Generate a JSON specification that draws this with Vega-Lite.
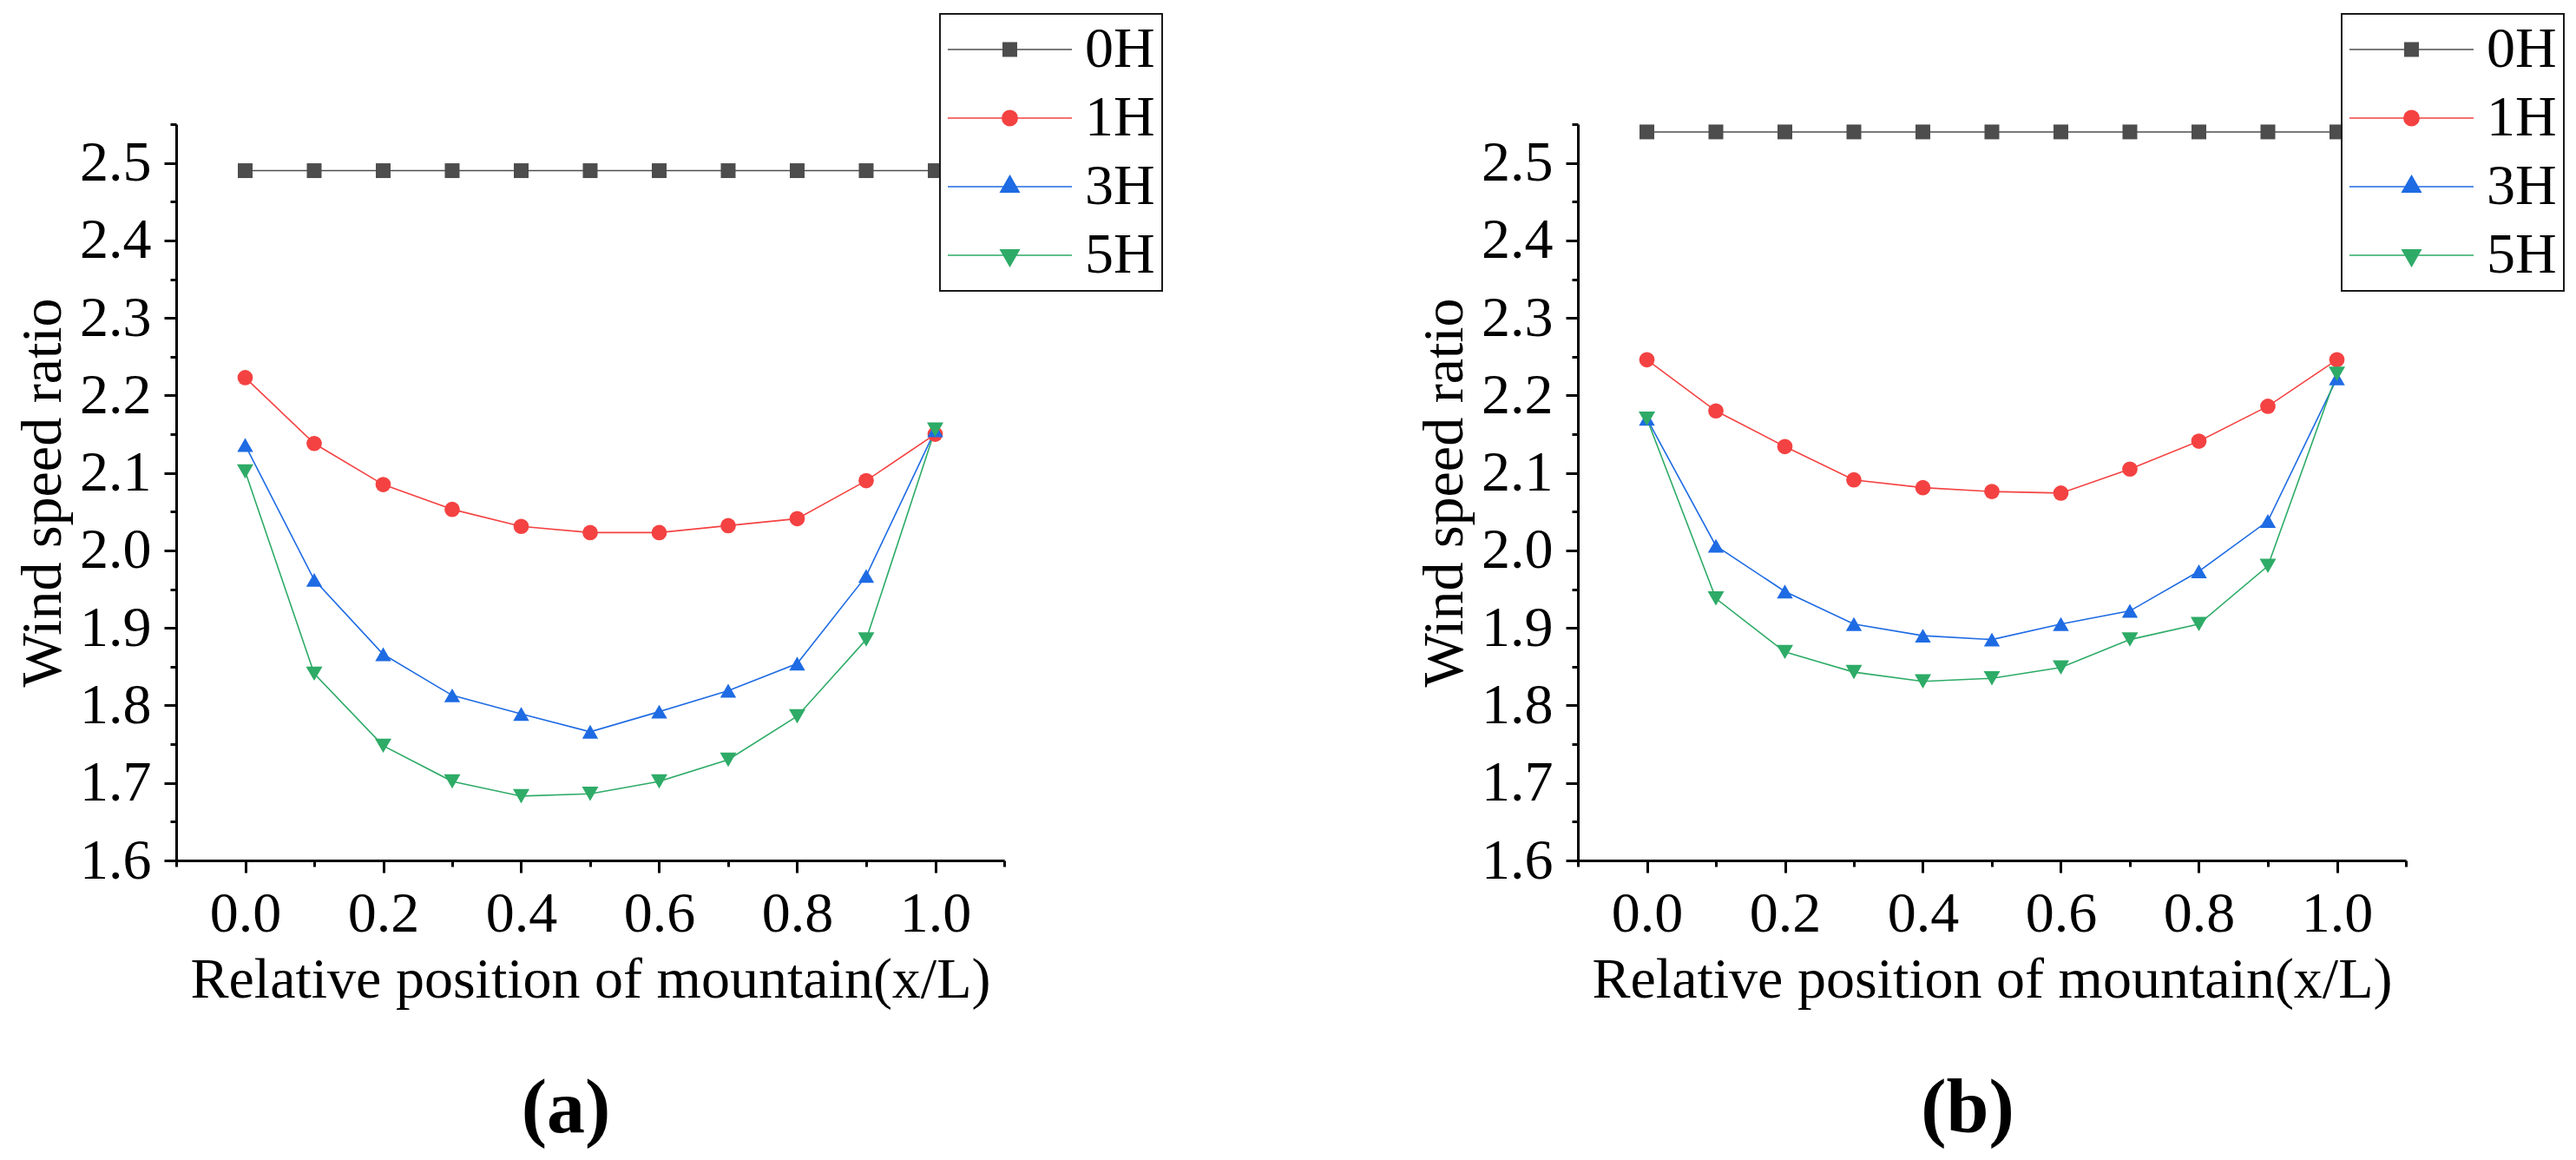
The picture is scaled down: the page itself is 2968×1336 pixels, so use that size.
{
  "$schema": "https://vega.github.io/schema/vega-lite/v6.json",
  "background": "white",
  "padding": {"left": 16, "top": 15, "right": 5, "bottom": 5},
  "spacing": 661,
  "bounds": "flush",
  "config": {
    "view": {"stroke": null},
    "font": "Liberation Serif",
    "axis": {
      "grid": false,
      "domainColor": "black",
      "tickColor": "black",
      "labelColor": "black",
      "titleColor": "black",
      "labelFont": "Liberation Serif",
      "titleFont": "Liberation Serif",
      "labelFontSize": 66,
      "titleFontSize": 66,
      "titleFontWeight": "normal",
      "domainWidth": 3,
      "tickWidth": 3
    },
    "legend": {
      "title": null, "orient": "none", "legendX": 880, "legendY": -127, "direction": "vertical",
      "padding": 8, "rowPadding": 13, "labelOffset": 14, "clipHeight": 66,
      "labelFont": "Liberation Serif", "labelFontSize": 66, "labelColor": "black",
      "symbolSize": 20449, "symbolStrokeWidth": 1.5,
      "strokeColor": "#1a1a1a", "fillColor": "white", "strokeWidth": 2
    }
  },
  "resolve": {
    "scale": {"color": "independent", "fill": "independent", "shape": "independent", "size": "independent"},
    "legend": {"color": "independent", "fill": "independent", "shape": "independent", "size": "independent"}
  },
  "hconcat": [
    {
      "width": 954,
      "height": 848,
      "title": {"text": "(a)", "orient": "bottom", "anchor": "middle", "frame": "group", "font": "Liberation Serif", "fontSize": 88, "fontWeight": "bold", "color": "black", "offset": 73, "dx": -28},
      "data": {"values": [
        {"s":"0H","x":0,"y":2.49},{"s":"0H","x":0.1,"y":2.49},{"s":"0H","x":0.2,"y":2.49},{"s":"0H","x":0.3,"y":2.49},{"s":"0H","x":0.4,"y":2.49},{"s":"0H","x":0.5,"y":2.49},{"s":"0H","x":0.6,"y":2.49},{"s":"0H","x":0.7,"y":2.49},{"s":"0H","x":0.8,"y":2.49},{"s":"0H","x":0.9,"y":2.49},{"s":"0H","x":1.0,"y":2.49},
        {"s":"1H","x":0,"y":2.223},{"s":"1H","x":0.1,"y":2.138},{"s":"1H","x":0.2,"y":2.085},{"s":"1H","x":0.3,"y":2.053},{"s":"1H","x":0.4,"y":2.031},{"s":"1H","x":0.5,"y":2.023},{"s":"1H","x":0.6,"y":2.023},{"s":"1H","x":0.7,"y":2.032},{"s":"1H","x":0.8,"y":2.041},{"s":"1H","x":0.9,"y":2.09},{"s":"1H","x":1.0,"y":2.15},
        {"s":"3H","x":0,"y":2.136},{"s":"3H","x":0.1,"y":1.962},{"s":"3H","x":0.2,"y":1.866},{"s":"3H","x":0.3,"y":1.813},{"s":"3H","x":0.4,"y":1.789},{"s":"3H","x":0.5,"y":1.766},{"s":"3H","x":0.6,"y":1.792},{"s":"3H","x":0.7,"y":1.819},{"s":"3H","x":0.8,"y":1.854},{"s":"3H","x":0.9,"y":1.967},{"s":"3H","x":1.0,"y":2.155},
        {"s":"5H","x":0,"y":2.102},{"s":"5H","x":0.1,"y":1.841},{"s":"5H","x":0.2,"y":1.748},{"s":"5H","x":0.3,"y":1.702},{"s":"5H","x":0.4,"y":1.683},{"s":"5H","x":0.5,"y":1.686},{"s":"5H","x":0.6,"y":1.702},{"s":"5H","x":0.7,"y":1.73},{"s":"5H","x":0.8,"y":1.786},{"s":"5H","x":0.9,"y":1.885},{"s":"5H","x":1.0,"y":2.156}
      ]},
      "resolve": {
        "axis": {"x": "independent", "y": "independent"},
        "scale": {"color": "independent", "fill": "independent", "shape": "independent", "size": "independent"},
        "legend": {"color": "independent", "fill": "independent", "shape": "independent", "size": "independent"}
      },
      "layer": [
        {
          "mark": {"type": "line", "strokeWidth": 1.6},
          "encoding": {
            "x": {"field": "x", "type": "quantitative", "scale": {"domain": [-0.1, 1.1], "nice": false, "zero": false},
              "axis": {"orient": "bottom", "values": [0, 0.2, 0.4, 0.6, 0.8, 1.0], "format": ".1f", "tickSize": 14, "labelPadding": 15, "titlePadding": 11, "title": "Relative position of mountain(x/L)"}},
            "y": {"field": "y", "type": "quantitative", "scale": {"domain": [1.6, 2.55], "nice": false, "zero": false},
              "axis": {"orient": "left", "values": [1.6, 1.7, 1.8, 1.9, 2.0, 2.1, 2.2, 2.3, 2.4, 2.5], "format": ".1f", "tickSize": 14, "labelPadding": 15, "titlePadding": 8, "title": "Wind speed ratio"}},
            "color": {"field": "s", "type": "nominal", "scale": {"domain": ["0H", "1H", "3H", "5H"], "range": ["#4D4D4D", "#F44242", "#1E6BE3", "#2EAB67"]}, "legend": null}
          }
        },
        {
          "mark": {"type": "point", "filled": true, "opacity": 1},
          "encoding": {
            "x": {"field": "x", "type": "quantitative", "scale": {"domain": [-0.1, 1.1], "nice": false, "zero": false},
              "axis": {"orient": "bottom", "values": [-0.1, 0.1, 0.3, 0.5, 0.7, 0.9, 1.1], "labels": false, "domain": false, "tickSize": 7, "title": null}},
            "y": {"field": "y", "type": "quantitative", "scale": {"domain": [1.6, 2.55], "nice": false, "zero": false},
              "axis": {"orient": "left", "values": [1.65, 1.75, 1.85, 1.95, 2.05, 2.15, 2.25, 2.35, 2.45, 2.55], "labels": false, "domain": false, "tickSize": 7, "title": null}},
            "color": {"field": "s", "type": "nominal", "scale": {"domain": ["0H", "1H", "3H", "5H"], "range": ["#4D4D4D", "#F44242", "#1E6BE3", "#2EAB67"]}, "legend": null},
            "shape": {"field": "s", "type": "nominal", "scale": {"domain": ["0H", "1H", "3H", "5H"], "range": ["square", "circle", "triangle-up", "triangle-down"]}, "legend": null},
            "size": {"field": "s", "type": "nominal", "scale": {"domain": ["0H", "1H", "3H", "5H"], "range": [289, 361, 529, 529]}, "legend": null}
          }
        },
        {
          "transform": [{"filter": "false"}],
          "mark": {"type": "point", "filled": false, "opacity": 1, "strokeWidth": 1.5, "size": 20449},
          "encoding": {
            "color": {"field": "s", "type": "nominal", "scale": {"domain": ["0H", "1H", "3H", "5H"], "range": ["#4D4D4D", "#F44242", "#1E6BE3", "#2EAB67"]}},
            "fill": {"field": "s", "type": "nominal", "scale": {"domain": ["0H", "1H", "3H", "5H"], "range": ["#4D4D4D", "#F44242", "#1E6BE3", "#2EAB67"]}},
            "shape": {"field": "s", "type": "nominal", "scale": {"domain": ["0H", "1H", "3H", "5H"], "range": [
              "M-1,0H1M-0.108,-0.108H0.108V0.108H-0.108Z",
              "M-1,0H1M-0.122,0A0.122,0.122,0,1,0,0.122,0A0.122,0.122,0,1,0,-0.122,0Z",
              "M-1,0H1M0,-0.175L0.15,0.087L-0.15,0.087Z",
              "M-1,0H1M0,0.175L0.15,-0.087L-0.15,-0.087Z"]}}
          }
        }
      ]
    },
    {
      "width": 954,
      "height": 848,
      "title": {"text": "(b)", "orient": "bottom", "anchor": "middle", "frame": "group", "font": "Liberation Serif", "fontSize": 88, "fontWeight": "bold", "color": "black", "offset": 73, "dx": -28},
      "data": {"values": [
        {"s":"0H","x":0,"y":2.54},{"s":"0H","x":0.1,"y":2.54},{"s":"0H","x":0.2,"y":2.54},{"s":"0H","x":0.3,"y":2.54},{"s":"0H","x":0.4,"y":2.54},{"s":"0H","x":0.5,"y":2.54},{"s":"0H","x":0.6,"y":2.54},{"s":"0H","x":0.7,"y":2.54},{"s":"0H","x":0.8,"y":2.54},{"s":"0H","x":0.9,"y":2.54},{"s":"0H","x":1.0,"y":2.54},
        {"s":"1H","x":0,"y":2.246},{"s":"1H","x":0.1,"y":2.18},{"s":"1H","x":0.2,"y":2.134},{"s":"1H","x":0.3,"y":2.091},{"s":"1H","x":0.4,"y":2.081},{"s":"1H","x":0.5,"y":2.076},{"s":"1H","x":0.6,"y":2.074},{"s":"1H","x":0.7,"y":2.105},{"s":"1H","x":0.8,"y":2.141},{"s":"1H","x":0.9,"y":2.186},{"s":"1H","x":1.0,"y":2.246},
        {"s":"3H","x":0,"y":2.17},{"s":"3H","x":0.1,"y":2.006},{"s":"3H","x":0.2,"y":1.947},{"s":"3H","x":0.3,"y":1.905},{"s":"3H","x":0.4,"y":1.89},{"s":"3H","x":0.5,"y":1.885},{"s":"3H","x":0.6,"y":1.905},{"s":"3H","x":0.7,"y":1.922},{"s":"3H","x":0.8,"y":1.973},{"s":"3H","x":0.9,"y":2.038},{"s":"3H","x":1.0,"y":2.222},
        {"s":"5H","x":0,"y":2.17},{"s":"5H","x":0.1,"y":1.938},{"s":"5H","x":0.2,"y":1.869},{"s":"5H","x":0.3,"y":1.843},{"s":"5H","x":0.4,"y":1.831},{"s":"5H","x":0.5,"y":1.835},{"s":"5H","x":0.6,"y":1.849},{"s":"5H","x":0.7,"y":1.885},{"s":"5H","x":0.8,"y":1.905},{"s":"5H","x":0.9,"y":1.98},{"s":"5H","x":1.0,"y":2.228}
      ]},
      "resolve": {
        "axis": {"x": "independent", "y": "independent"},
        "scale": {"color": "independent", "fill": "independent", "shape": "independent", "size": "independent"},
        "legend": {"color": "independent", "fill": "independent", "shape": "independent", "size": "independent"}
      },
      "layer": [
        {
          "mark": {"type": "line", "strokeWidth": 1.6},
          "encoding": {
            "x": {"field": "x", "type": "quantitative", "scale": {"domain": [-0.1, 1.1], "nice": false, "zero": false},
              "axis": {"orient": "bottom", "values": [0, 0.2, 0.4, 0.6, 0.8, 1.0], "format": ".1f", "tickSize": 14, "labelPadding": 15, "titlePadding": 11, "title": "Relative position of mountain(x/L)"}},
            "y": {"field": "y", "type": "quantitative", "scale": {"domain": [1.6, 2.55], "nice": false, "zero": false},
              "axis": {"orient": "left", "values": [1.6, 1.7, 1.8, 1.9, 2.0, 2.1, 2.2, 2.3, 2.4, 2.5], "format": ".1f", "tickSize": 14, "labelPadding": 15, "titlePadding": 8, "title": "Wind speed ratio"}},
            "color": {"field": "s", "type": "nominal", "scale": {"domain": ["0H", "1H", "3H", "5H"], "range": ["#4D4D4D", "#F44242", "#1E6BE3", "#2EAB67"]}, "legend": null}
          }
        },
        {
          "mark": {"type": "point", "filled": true, "opacity": 1},
          "encoding": {
            "x": {"field": "x", "type": "quantitative", "scale": {"domain": [-0.1, 1.1], "nice": false, "zero": false},
              "axis": {"orient": "bottom", "values": [-0.1, 0.1, 0.3, 0.5, 0.7, 0.9, 1.1], "labels": false, "domain": false, "tickSize": 7, "title": null}},
            "y": {"field": "y", "type": "quantitative", "scale": {"domain": [1.6, 2.55], "nice": false, "zero": false},
              "axis": {"orient": "left", "values": [1.65, 1.75, 1.85, 1.95, 2.05, 2.15, 2.25, 2.35, 2.45, 2.55], "labels": false, "domain": false, "tickSize": 7, "title": null}},
            "color": {"field": "s", "type": "nominal", "scale": {"domain": ["0H", "1H", "3H", "5H"], "range": ["#4D4D4D", "#F44242", "#1E6BE3", "#2EAB67"]}, "legend": null},
            "shape": {"field": "s", "type": "nominal", "scale": {"domain": ["0H", "1H", "3H", "5H"], "range": ["square", "circle", "triangle-up", "triangle-down"]}, "legend": null},
            "size": {"field": "s", "type": "nominal", "scale": {"domain": ["0H", "1H", "3H", "5H"], "range": [289, 361, 529, 529]}, "legend": null}
          }
        },
        {
          "transform": [{"filter": "false"}],
          "mark": {"type": "point", "filled": false, "opacity": 1, "strokeWidth": 1.5, "size": 20449},
          "encoding": {
            "color": {"field": "s", "type": "nominal", "scale": {"domain": ["0H", "1H", "3H", "5H"], "range": ["#4D4D4D", "#F44242", "#1E6BE3", "#2EAB67"]}},
            "fill": {"field": "s", "type": "nominal", "scale": {"domain": ["0H", "1H", "3H", "5H"], "range": ["#4D4D4D", "#F44242", "#1E6BE3", "#2EAB67"]}},
            "shape": {"field": "s", "type": "nominal", "scale": {"domain": ["0H", "1H", "3H", "5H"], "range": [
              "M-1,0H1M-0.108,-0.108H0.108V0.108H-0.108Z",
              "M-1,0H1M-0.122,0A0.122,0.122,0,1,0,0.122,0A0.122,0.122,0,1,0,-0.122,0Z",
              "M-1,0H1M0,-0.175L0.15,0.087L-0.15,0.087Z",
              "M-1,0H1M0,0.175L0.15,-0.087L-0.15,-0.087Z"]}}
          }
        }
      ]
    }
  ]
}
